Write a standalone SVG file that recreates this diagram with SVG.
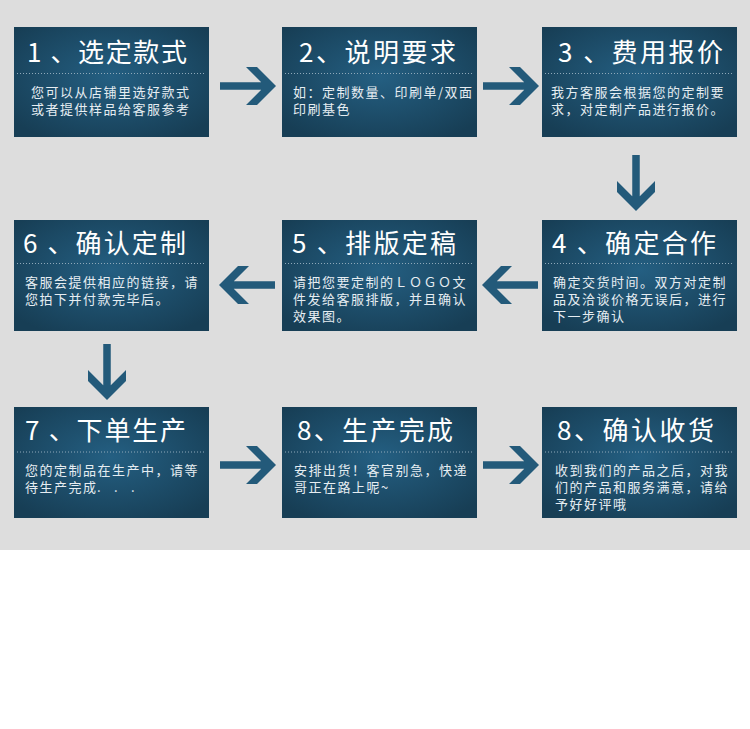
<svg xmlns="http://www.w3.org/2000/svg" xmlns:xlink="http://www.w3.org/1999/xlink" width="750" height="729" viewBox="0 0 750 729">
<style>
.box{fill:url(#bg)}
.dot{stroke:#8fa9ba;stroke-width:1;stroke-dasharray:1 2;fill:none}
.title{font-family:"Noto Sans CJK SC","Noto Sans",sans-serif;font-size:26px;fill:#ffffff}
.body{font-family:"Noto Sans CJK SC","Noto Sans",sans-serif;font-size:13px;fill:#e6edf2;letter-spacing:1.5px}
.arrow{fill:#235a7a}
</style>
<defs>
<radialGradient id="bg" cx="50%" cy="45%" r="65%">
<stop offset="0" stop-color="#245f82"/>
<stop offset="1" stop-color="#173e55"/>
</radialGradient>
<path id="arr" d="M0,-3.75 H41.25 L26,-19 H37 L56,0 L37,19 H26 L41.25,3.75 H0 Z"/>
</defs>
<rect x="0" y="0" width="750" height="550" fill="#dddddd"/>
<rect x="0" y="550" width="750" height="179" fill="#ffffff"/>

<g id="connectors" class="arrow">
<use xlink:href="#arr" transform="translate(220,86)"/>
<use xlink:href="#arr" transform="translate(483,86)"/>
<use xlink:href="#arr" transform="translate(636,155) rotate(90)"/>
<use xlink:href="#arr" transform="translate(538,285) rotate(180)"/>
<use xlink:href="#arr" transform="translate(275,285) rotate(180)"/>
<use xlink:href="#arr" transform="translate(107,344) rotate(90)"/>
<use xlink:href="#arr" transform="translate(220,465)"/>
<use xlink:href="#arr" transform="translate(483,465)"/>
</g>

<g id="node1">
<rect class="box" x="14" y="27" width="195" height="110"/>
<text class="title" x="27" y="62" textLength="160" lengthAdjust="spacing">1 、选定款式</text>
<line class="dot" x1="17" y1="73.5" x2="206" y2="73.5"/>
<text class="body" x="31" y="97">您可以从店铺里选好款式</text>
<text class="body" x="31" y="114">或者提供样品给客服参考</text>
</g>

<g id="node2">
<rect class="box" x="282" y="27" width="195" height="110"/>
<text class="title" x="299" y="62" textLength="157" lengthAdjust="spacing">2、说明要求</text>
<line class="dot" x1="285" y1="73.5" x2="474" y2="73.5"/>
<text class="body" x="293" y="97">如：定制数量、印刷单/双面</text>
<text class="body" x="293" y="114">印刷基色</text>
</g>

<g id="node3">
<rect class="box" x="542" y="27" width="195" height="110"/>
<text class="title" x="558" y="62" textLength="165" lengthAdjust="spacing">3 、费用报价</text>
<line class="dot" x1="545" y1="73.5" x2="734" y2="73.5"/>
<text class="body" x="551" y="97">我方客服会根据您的定制要</text>
<text class="body" x="551" y="114">求，对定制产品进行报价。</text>
</g>

<g id="node4">
<rect class="box" x="542" y="220" width="195" height="111"/>
<text class="title" x="552" y="253" textLength="164" lengthAdjust="spacing">4 、确定合作</text>
<line class="dot" x1="545" y1="263.5" x2="734" y2="263.5"/>
<text class="body" x="553" y="287">确定交货时间。双方对定制</text>
<text class="body" x="553" y="304">品及洽谈价格无误后，进行</text>
<text class="body" x="553" y="321">下一步确认</text>
</g>

<g id="node5">
<rect class="box" x="282" y="220" width="195" height="111"/>
<text class="title" x="292" y="253" textLength="164" lengthAdjust="spacing">5 、排版定稿</text>
<line class="dot" x1="285" y1="263.5" x2="474" y2="263.5"/>
<text class="body" x="293" y="287">请把您要定制的ＬＯＧＯ文</text>
<text class="body" x="293" y="304">件发给客服排版，并且确认</text>
<text class="body" x="293" y="321">效果图。</text>
</g>

<g id="node6">
<rect class="box" x="14" y="220" width="195" height="111"/>
<text class="title" x="23" y="253" textLength="163" lengthAdjust="spacing">6 、确认定制</text>
<line class="dot" x1="17" y1="263.5" x2="206" y2="263.5"/>
<text class="body" x="25" y="287">客服会提供相应的链接，请</text>
<text class="body" x="25" y="304">您拍下并付款完毕后。</text>
</g>

<g id="node7">
<rect class="box" x="14" y="407" width="195" height="111"/>
<text class="title" x="25" y="440" textLength="161" lengthAdjust="spacing">7 、下单生产</text>
<line class="dot" x1="17" y1="452" x2="206" y2="452"/>
<text class="body" x="25" y="475">您的定制品在生产中，请等</text>
<text class="body" x="25" y="492">待生产完成<tspan x="97">.</tspan><tspan x="114">.</tspan><tspan x="131">.</tspan></text>
</g>

<g id="node8">
<rect class="box" x="282" y="407" width="195" height="111"/>
<text class="title" x="297" y="440" textLength="156" lengthAdjust="spacing">8、生产完成</text>
<line class="dot" x1="285" y1="452" x2="474" y2="452"/>
<text class="body" x="294" y="475">安排出货！客官别急，快递</text>
<text class="body" x="294" y="492">哥正在路上呢~</text>
</g>

<g id="node9">
<rect class="box" x="542" y="407" width="195" height="111"/>
<text class="title" x="557" y="440" textLength="157" lengthAdjust="spacing">8、确认收货</text>
<line class="dot" x1="545" y1="452" x2="734" y2="452"/>
<text class="body" x="555" y="475">收到我们的产品之后，对我</text>
<text class="body" x="555" y="492">们的产品和服务满意，请给</text>
<text class="body" x="555" y="509">予好好评哦</text>
</g>
</svg>
